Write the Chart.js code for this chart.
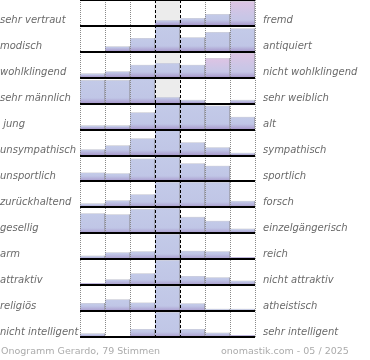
<!DOCTYPE html>
<html>
<head>
<meta charset="utf-8">
<script src="https://cdn.jsdelivr.net/npm/chart.js@4"></script>
<style>
body{margin:0;background:#fff;}
</style>
</head>
<body>
<canvas id="myChart" width="370" height="360"></canvas>
<script>
// answer columns, 1 = left adjective ... 7 = right adjective
var columns = ["1", "2", "3", "4", "5", "6", "7"];

var leftLabels = ["sehr vertraut", "modisch", "wohlklingend", "sehr männlich", " jung",
  "unsympathisch", "unsportlich", "zurückhaltend", "gesellig", "arm", "attraktiv",
  "religiös", "nicht intelligent"];

var rightLabels = ["fremd", "antiquiert", "nicht wohlklingend", "sehr weiblich", "alt",
  "sympathisch", "sportlich", "forsch", "einzelgängerisch", "reich", "nicht attraktiv",
  "atheistisch", "sehr intelligent"];

// bar heights per row, 100 = full row
var rowValues = [
  [0, 0, 0, 19, 27, 42, 92],
  [0, 18, 50, 95, 53, 73, 87],
  [14, 22, 47, 54, 47, 73, 93],
  [88, 88, 96, 23, 12, 0, 12],
  [14, 14, 64, 96, 96, 90, 47],
  [22, 37, 64, 95, 49, 30, 9],
  [33, 30, 86, 92, 68, 59, 0],
  [14, 26, 49, 96, 96, 96, 24],
  [76, 72, 92, 96, 62, 47, 17],
  [13, 26, 30, 96, 32, 30, 7],
  [7, 22, 45, 96, 35, 30, 17],
  [31, 45, 33, 96, 30, 9, 9],
  [14, 0, 31, 96, 31, 17, 7]
];

// bars with the pink top
var pinkBars = ["0-6", "2-5", "2-6"];

var footerLeft = "Onogramm Gerardo, 79 Stimmen";
var footerRight = "onomastik.com - 05 / 2025";

var rowSize = 100;
var nRows = leftLabels.length;
var topValue = 1296;

function rowBase(r){
  return (nRows - 1 - r) * rowSize;
}

function barColor(r){
  return function(context){
    var chart = context.chart;
    var v = context.raw;
    var ys = chart.scales.y;
    if(!v || !ys) return "#c3cae8";
    var top = ys.getPixelForValue(v[1]);
    var bottom = ys.getPixelForValue(v[0]);
    if(!isFinite(top) || !isFinite(bottom)) return "#c3cae8";
    var h = bottom - top;
    if(h < 2) return "#aa9ecf";
    var g = chart.ctx.createLinearGradient(0, top, 0, bottom);
    var pink = pinkBars.indexOf(r + "-" + context.dataIndex) >= 0;
    var t = 1.2 / h;
    var p = Math.max(t, 1 - 5 / h);
    g.addColorStop(0, "#d2d2d8");
    g.addColorStop(t, pink ? "#dcc4e4" : "#c3cae8");
    if(pink){
      g.addColorStop(Math.max(t, 0.6), "#cac6e6");
    }
    g.addColorStop(p, pink ? "#c6c6e6" : "#c0c6e6");
    g.addColorStop(1, "#a99bcd");
    return g;
  };
}

var datasets = [];
for(var r = 0; r < nRows; r++){
  var base = rowBase(r);
  var data = [];
  for(var i = 0; i < columns.length; i++){
    var v = rowValues[r][i];
    data.push(v > 0 ? [base, base + v] : null);
  }
  datasets.push({
    label: leftLabels[r],
    data: data,
    grouped: false,
    backgroundColor: barColor(r),
    borderColor: "#9696a0",
    borderWidth: {top: 0, right: 1, bottom: 0, left: 0},
    borderSkipped: false,
    order: 1
  });
}

// grey background of the middle column
var middle = [];
for(var i = 0; i < columns.length; i++){
  middle.push(i == 3 ? [0, topValue] : null);
}
datasets.push({
  label: "middle",
  data: middle,
  grouped: false,
  backgroundColor: "#ececec",
  borderWidth: 0,
  order: 10
});

var textPlugin = {
  id: "texts",
  afterDraw: function(chart){
    var c = chart.ctx;
    var y = chart.scales.y;
    c.save();
    c.font = "italic 10px 'DejaVu Sans'";
    c.fillStyle = "#6a6a6a";
    c.textBaseline = "middle";
    c.textAlign = "left";
    for(var r = 0; r < nRows; r++){
      var py = y.getPixelForValue(rowBase(r)) - 5;
      c.fillText(leftLabels[r], 0, py);
      c.fillText(rightLabels[r], chart.chartArea.right + 8, py);
    }
    c.font = "9.5px 'DejaVu Sans'";
    c.fillStyle = "#ababab";
    var fy = chart.chartArea.bottom + 15;
    c.fillText(footerLeft, 1, fy);
    c.fillText(footerRight, 221, fy);
    c.restore();
  }
};

var ctx = document.getElementById("myChart");
var myChart = new Chart(ctx, {
  type: "bar",
  data: {
    labels: columns,
    datasets: datasets
  },
  options: {
    responsive: false,
    animation: false,
    barPercentage: 1,
    categoryPercentage: 1,
    layout: {
      padding: {left: 80, right: 115, top: 0, bottom: 23}
    },
    plugins: {
      legend: {display: false},
      tooltip: {enabled: false}
    },
    scales: {
      x: {
        type: "category",
        offset: true,
        ticks: {display: false},
        grid: {
          offset: true,
          drawTicks: false,
          z: 1,
          lineWidth: 1,
          color: function(c){
            return (c.index == 3 || c.index == 4) ? "#000" : "#8a8a8a";
          }
        },
        border: {
          display: false,
          dash: function(c){
            return (c.index == 3 || c.index == 4) ? [3, 2] : [1, 1];
          }
        }
      },
      y: {
        type: "linear",
        min: 0,
        max: topValue,
        ticks: {display: false, stepSize: rowSize, includeBounds: false},
        grid: {
          drawTicks: false,
          color: "#000",
          lineWidth: 2,
          z: 2
        },
        border: {display: false}
      }
    }
  },
  plugins: [textPlugin]
});
</script>
</body>
</html>
